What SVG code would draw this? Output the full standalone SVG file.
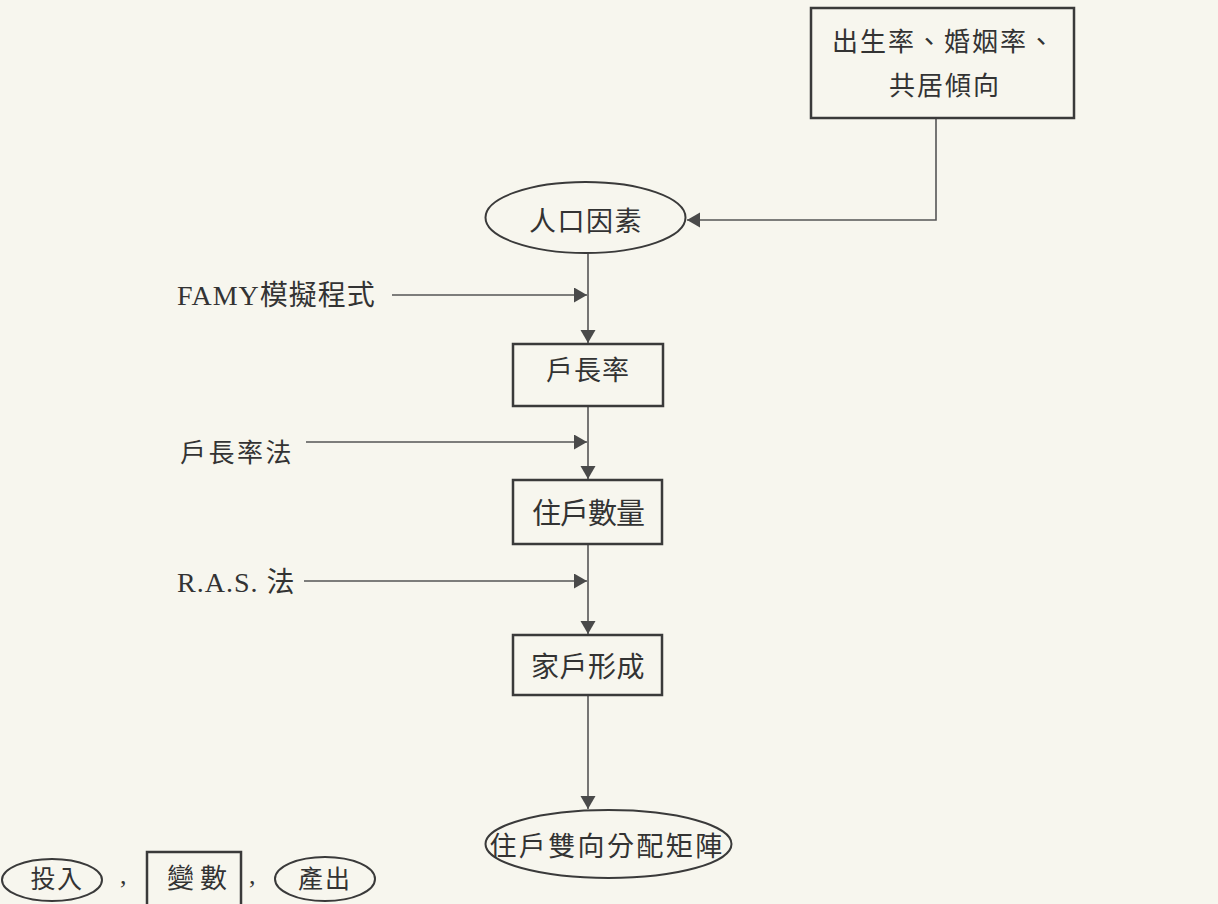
<svg xmlns="http://www.w3.org/2000/svg" width="1218" height="904" viewBox="0 0 1218 904">
<style>
.bg{fill:#f7f6ee}
.box{fill:none;stroke:#3a3a3a;stroke-width:2.5}
.ell{fill:none;stroke:#3a3a3a;stroke-width:2}
.ln{fill:none;stroke:#555;stroke-width:1.6}
.t{font-family:"Liberation Serif","Noto Sans CJK TC",serif;fill:#333}
.c{text-anchor:middle}
</style>
<defs>
<marker id="ah" markerUnits="userSpaceOnUse" markerWidth="14" markerHeight="16" refX="13" refY="7.5" orient="auto">
<path d="M0,0 L13,7.5 L0,15 z" fill="#4a4a4a"/>
</marker>
</defs>
<rect class="bg" x="0" y="0" width="1218" height="904"/>

<g id="connectors">
<polyline class="ln" points="936,118 936,220 687,220" marker-end="url(#ah)"/>
<line class="ln" x1="588" y1="253" x2="588" y2="343" marker-end="url(#ah)"/>
<line class="ln" x1="392" y1="295" x2="587" y2="295" marker-end="url(#ah)"/>
<line class="ln" x1="588" y1="406" x2="588" y2="479" marker-end="url(#ah)"/>
<line class="ln" x1="306" y1="442" x2="587" y2="442" marker-end="url(#ah)"/>
<line class="ln" x1="588" y1="544" x2="588" y2="634" marker-end="url(#ah)"/>
<line class="ln" x1="304" y1="581" x2="587" y2="581" marker-end="url(#ah)"/>
<line class="ln" x1="588" y1="695" x2="588" y2="809" marker-end="url(#ah)"/>
</g>

<g id="node-birth">
<rect class="box" x="811" y="8" width="263" height="110"/>
<text class="t" x="832" y="51" font-size="26" letter-spacing="2">出生率、婚姻率、</text>
<text class="t" x="889" y="95" font-size="26" letter-spacing="2">共居傾向</text>
</g>

<g id="node-population">
<ellipse class="ell" cx="585.5" cy="217.5" rx="100" ry="35.5"/>
<text class="t c" x="586" y="231" font-size="27" letter-spacing="1.5">人口因素</text>
</g>

<g id="label-famy">
<text class="t" x="177" y="305" font-size="28" letter-spacing="1">FAMY模擬程式</text>
</g>

<g id="node-headship">
<rect class="box" x="513" y="344" width="150" height="62"/>
<text class="t c" x="588" y="380" font-size="27" letter-spacing="1">戶長率</text>
</g>

<g id="label-headship-method">
<text class="t" x="180" y="462" font-size="26" letter-spacing="2.5">戶長率法</text>
</g>

<g id="node-households">
<rect class="box" x="513" y="480" width="149" height="64"/>
<text class="t c" x="588" y="524" font-size="29" letter-spacing="-1">住戶數量</text>
</g>

<g id="label-ras">
<text class="t" x="177" y="592" font-size="28" letter-spacing="1">R.A.S. 法</text>
</g>

<g id="node-formation">
<rect class="box" x="513" y="635" width="149" height="60"/>
<text class="t c" x="588" y="677" font-size="28" letter-spacing="0.5">家戶形成</text>
</g>

<g id="node-matrix">
<ellipse class="ell" cx="608.5" cy="844" rx="123" ry="34"/>
<text class="t c" x="607" y="856" font-size="27" letter-spacing="2.4">住戶雙向分配矩陣</text>
</g>

<g id="legend">
<ellipse class="ell" cx="52" cy="880" rx="50" ry="21"/>
<text class="t c" x="57" y="888" font-size="25" letter-spacing="1.5">投入</text>
<text class="t" x="120" y="884" font-size="26">,</text>
<rect class="box" x="147" y="852" width="94" height="60"/>
<text class="t" x="167" y="888" font-size="27" letter-spacing="6">變數</text>
<text class="t" x="249" y="884" font-size="26">,</text>
<ellipse class="ell" cx="325" cy="879" rx="50" ry="22"/>
<text class="t c" x="325" y="888" font-size="25" letter-spacing="2">產出</text>
</g>
</svg>
